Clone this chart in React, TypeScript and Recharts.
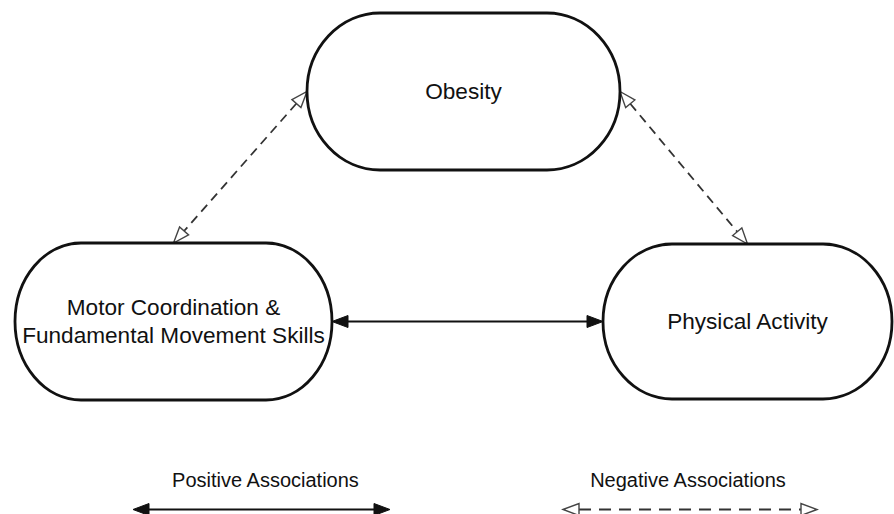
import React from 'react'
import { ScatterChart, Scatter, XAxis, YAxis, ReferenceLine } from 'recharts'

// diagram nodes (centres in the 894 x 514 drawing space)
const nodeNames = ['Obesity', 'Motor Coordination & Fundamental Movement Skills', 'Physical Activity']
const nodeLines = [['Obesity'], ['Motor Coordination &', 'Fundamental Movement Skills'], ['Physical Activity']]
const nodeX = [463.5, 173.5, 747.5]
const nodeY = [91.5, 321.5, 321.5]

// associations between nodes
const edgeFrom = [0, 0, 1]
const edgeFromSide = ['left', 'right', 'right']
const edgeTo = [1, 2, 2]
const edgeToSide = ['top', 'top', 'left']
const edgeKind = ['negative', 'negative', 'positive']

// legend
const legendLabels = ['Positive Associations', 'Negative Associations']
const legendKinds = ['positive', 'negative']

// layout
const W = 894
const H = 514
const FONT = '"Liberation Sans", Arial, Helvetica, sans-serif'
const nodeW = [313, 317, 289]
const nodeH = [157, 157, 155]
const nodeRx = [73, 66, 69]
const legendCx = [265.5, 688]
const legendX1 = [133, 563]
const legendX2 = [390, 817]

const nodes = nodeNames.map((name, i) => ({ name, idx: i, x: nodeX[i], y: nodeY[i] }))

function anchor(i: number, side: string) {
  if (side === 'left') return { x: nodeX[i] - nodeW[i] / 2, y: nodeY[i] }
  if (side === 'right') return { x: nodeX[i] + nodeW[i] / 2, y: nodeY[i] }
  if (side === 'top') return { x: nodeX[i], y: nodeY[i] - nodeH[i] / 2 }
  return { x: nodeX[i], y: nodeY[i] + nodeH[i] / 2 }
}

const Stadium = (props: any) => {
  const { cx, cy, payload } = props
  const i = payload.idx
  const w = nodeW[i]
  const h = nodeH[i]
  const lines = nodeLines[i]
  const lh = 28
  return (
    <g>
      <rect
        x={cx - w / 2}
        y={cy - h / 2}
        width={w}
        height={h}
        rx={nodeRx[i]}
        ry={h / 2}
        fill="#fff"
        stroke="#111"
        strokeWidth={2.8}
      />
      <text textAnchor="middle" fontFamily={FONT} fontSize={22.6} fill="#111">
        {lines.map((l, k) => (
          <tspan key={k} x={cx} y={cy + (k - (lines.length - 1) / 2) * lh} dy="0.35em">
            {l}
          </tspan>
        ))}
      </text>
    </g>
  )
}

const ArrowLine = (props: any) => {
  const { x1, y1, x2, y2, kind } = props
  const dx = x2 - x1
  const dy = y2 - y1
  const len = Math.hypot(dx, dy) || 1
  const ux = dx / len
  const uy = dy / len
  const L = 16
  const hw = 6
  const pos = kind === 'positive'
  const head = (tx: number, ty: number, vx: number, vy: number) => {
    const bx = tx - vx * L
    const by = ty - vy * L
    const px = -vy * hw
    const py = vx * hw
    return `${tx},${ty} ${bx + px},${by + py} ${bx - px},${by - py}`
  }
  return (
    <g>
      <line
        x1={x1 + ux * L}
        y1={y1 + uy * L}
        x2={x2 - ux * L}
        y2={y2 - uy * L}
        stroke={pos ? '#111' : '#333'}
        strokeWidth={pos ? 2 : 1.8}
        strokeDasharray={pos ? undefined : props.dash || '9 6'}
      />
      <polygon
        points={head(x1, y1, -ux, -uy)}
        fill={pos ? '#111' : '#fff'}
        stroke={pos ? '#111' : '#444'}
        strokeWidth={pos ? 1 : 1.4}
        strokeLinejoin="miter"
      />
      <polygon
        points={head(x2, y2, ux, uy)}
        fill={pos ? '#111' : '#fff'}
        stroke={pos ? '#111' : '#444'}
        strokeWidth={pos ? 1 : 1.4}
        strokeLinejoin="miter"
      />
    </g>
  )
}

export default function App() {
  return (
    <div style={{ position: 'absolute', left: 0, top: 0, width: W, height: H, background: '#fff' }}>
      <ScatterChart width={W} height={H} margin={{ top: 0, right: 0, bottom: 0, left: 0 }}>
        <XAxis type="number" dataKey="x" domain={[0, W]} hide />
        <YAxis type="number" dataKey="y" domain={[0, H]} reversed hide />
        {edgeFrom.map((f, i) => {
          const a = anchor(f, edgeFromSide[i])
          const b = anchor(edgeTo[i], edgeToSide[i])
          return (
            <ReferenceLine
              key={i}
              segment={[a, b]}
              ifOverflow="visible"
              shape={(p: any) => <ArrowLine {...p} kind={edgeKind[i]} />}
            />
          )
        })}
        <Scatter data={nodes} isAnimationActive={false} shape={(p: any) => <Stadium {...p} />} />
      </ScatterChart>
      <svg
        width={W}
        height={H}
        style={{ position: 'absolute', left: 0, top: 0, pointerEvents: 'none' }}
      >
        {legendLabels.map((label, i) => (
          <g key={label}>
            <text x={legendCx[i]} y={487} textAnchor="middle" fontFamily={FONT} fontSize={20} fill="#111">
              {label}
            </text>
            <ArrowLine x1={legendX1[i]} y1={509.5} x2={legendX2[i]} y2={509.5} kind={legendKinds[i]} dash="12 8" />
          </g>
        ))}
      </svg>
    </div>
  )
}
